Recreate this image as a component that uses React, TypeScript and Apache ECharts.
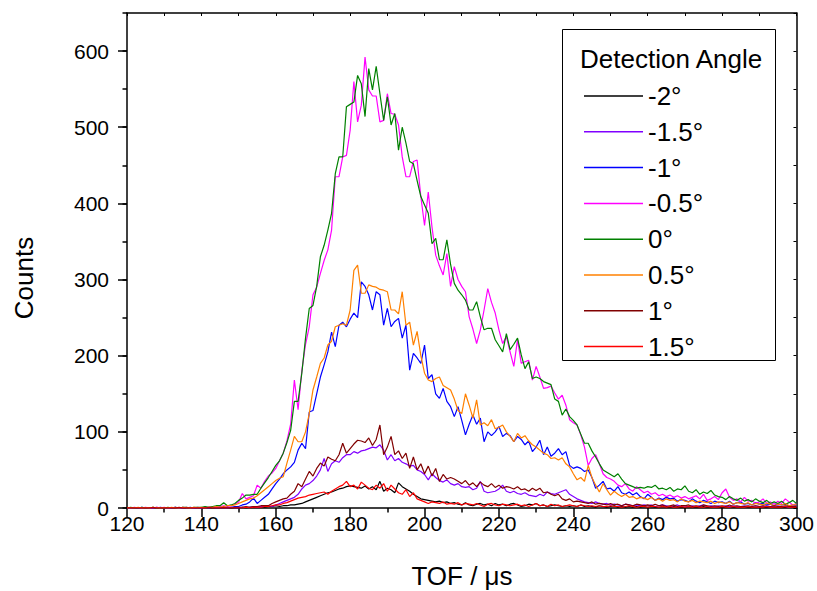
import React, { useEffect, useRef } from "react";
import * as echarts from "echarts";

const FONT = "'Liberation Sans', Arial, Helvetica, sans-serif";

// TOF axis (µs), one point per µs
const tof = [
  120, 121, 122, 123, 124, 125, 126, 127, 128, 129,
  130, 131, 132, 133, 134, 135, 136, 137, 138, 139,
  140, 141, 142, 143, 144, 145, 146, 147, 148, 149,
  150, 151, 152, 153, 154, 155, 156, 157, 158, 159,
  160, 161, 162, 163, 164, 165, 166, 167, 168, 169,
  170, 171, 172, 173, 174, 175, 176, 177, 178, 179,
  180, 181, 182, 183, 184, 185, 186, 187, 188, 189,
  190, 191, 192, 193, 194, 195, 196, 197, 198, 199,
  200, 201, 202, 203, 204, 205, 206, 207, 208, 209,
  210, 211, 212, 213, 214, 215, 216, 217, 218, 219,
  220, 221, 222, 223, 224, 225, 226, 227, 228, 229,
  230, 231, 232, 233, 234, 235, 236, 237, 238, 239,
  240, 241, 242, 243, 244, 245, 246, 247, 248, 249,
  250, 251, 252, 253, 254, 255, 256, 257, 258, 259,
  260, 261, 262, 263, 264, 265, 266, 267, 268, 269,
  270, 271, 272, 273, 274, 275, 276, 277, 278, 279,
  280, 281, 282, 283, 284, 285, 286, 287, 288, 289,
  290, 291, 292, 293, 294, 295, 296, 297, 298, 299,
  300,
];

const angleLabels = ["-2°", "-1.5°", "-1°", "-0.5°", "0°", "0.5°", "1°", "1.5°"];

const xTickLabels = [120, 140, 160, 180, 200, 220, 240, 260, 280, 300];
const yTickLabels = [0, 100, 200, 300, 400, 500, 600];

const countsM20 = [
  0, 0, 0, 0, 0, 0, 0, 0, 0, 0,
  0, 0, 0, 0, 0, 0, 0, 0, 0, 0,
  0, 0, 0, 0, 0, 0, 0, 1, 0, 0,
  0, 1, 0, 1, 1, 1, 2, 1, 2, 2,
  3, 2, 3, 3, 4, 4, 5, 6, 8, 10,
  12, 14, 16, 18, 20, 21, 23, 25, 26, 28,
  29, 28, 27, 26, 29, 25, 28, 24, 35, 22,
  26, 24, 20, 33, 28, 25, 22, 18, 15, 12,
  11, 10, 9, 8, 9, 7, 8, 6, 7, 5,
  4, 7, 4, 3, 5, 6, 4, 5, 3, 6,
  4, 5, 3, 5, 6, 4, 2, 3, 5, 4,
  6, 3, 4, 2, 3, 4, 3, 2, 3, 2,
  3, 2, 4, 2, 3, 2, 1, 3, 2, 1,
  2, 3, 1, 2, 1, 2, 1, 2, 1, 2,
  1, 2, 1, 1, 2, 1, 1, 2, 1, 1,
  1, 2, 1, 1, 1, 2, 1, 1, 2, 1,
  1, 1, 2, 1, 1, 1, 2, 1, 1, 1,
  1, 1, 1, 2, 1, 1, 1, 1, 2, 1,
  1,
];

const countsM15 = [
  0, 0, 0, 0, 0, 0, 0, 0, 1, 0,
  0, 0, 0, 0, 0, 1, 0, 0, 0, 0,
  0, 0, 0, 1, 0, 0, 0, 0, 1, 0,
  0, 1, 1, 1, 2, 1, 2, 2, 3, 2,
  4, 6, 8, 10, 12, 14, 18, 25, 30, 32,
  36, 42, 50, 65, 48, 58, 62, 60, 66, 70,
  70, 74, 72, 75, 76, 78, 80, 79, 83, 76,
  63, 70, 62, 65, 60, 58, 55, 56, 50, 48,
  44, 37, 45, 40, 36, 34, 37, 32, 30, 32,
  28, 27, 28, 24, 26, 35, 22, 20, 21, 22,
  25, 30, 22, 20, 22, 19, 18, 20, 17, 16,
  15, 18, 16, 21, 19, 18, 20, 22, 24, 18,
  15, 12, 10, 8, 7, 6, 8, 6, 5, 6,
  4, 5, 4, 3, 5, 4, 3, 4, 3, 4,
  3, 4, 2, 3, 4, 3, 2, 3, 4, 2,
  3, 2, 3, 2, 3, 4, 2, 3, 2, 3,
  2, 3, 2, 3, 2, 2, 3, 2, 2, 3,
  2, 2, 3, 2, 2, 3, 2, 2, 1, 2,
  2,
];

const countsM10 = [
  0, 0, 0, 0, 1, 0, 0, 0, 0, 1,
  0, 0, 0, 1, 0, 0, 0, 1, 0, 0,
  0, 1, 0, 1, 0, 1, 1, 0, 1, 2,
  2, 4, 5, 8, 13, 6, 10, 14, 18, 25,
  32, 38, 45, 50, 54, 60, 76, 85, 78, 126,
  128, 150, 172, 188, 205, 231, 212, 240, 244, 238,
  248, 256, 250, 297, 291, 280, 260, 284, 280, 240,
  262, 238, 245, 249, 223, 240, 181, 203, 197, 190,
  214, 170, 175, 150, 144, 157, 140, 133, 120, 133,
  115, 96, 110, 122, 110, 118, 87, 100, 95, 100,
  107, 94, 98, 95, 87, 94, 90, 83, 88, 74,
  80, 89, 70, 80, 68, 72, 78, 70, 74, 56,
  52, 54, 52, 48, 50, 40, 26, 30, 35, 25,
  26, 22, 28, 20, 18, 21, 17, 20, 15, 12,
  18, 14, 10, 13, 11, 14, 12, 13, 9, 11,
  10, 8, 12, 9, 7, 10, 8, 6, 9, 7,
  8, 6, 9, 5, 7, 8, 5, 6, 4, 7,
  5, 6, 4, 5, 3, 6, 4, 5, 3, 4,
  3,
];

const countsM05 = [
  0, 0, 1, 0, 0, 1, 0, 0, 1, 0,
  1, 0, 0, 1, 0, 0, 1, 0, 0, 1,
  0, 1, 1, 2, 1, 2, 3, 2, 3, 5,
  8, 19, 12, 14, 16, 30, 26, 35, 42, 46,
  52, 62, 72, 88, 110, 168, 129, 180, 215, 238,
  280, 290, 308, 325, 339, 365, 435, 435, 461, 463,
  496, 560, 507, 529, 592, 549, 541, 541, 507, 509,
  544, 518, 517, 503, 461, 435, 435, 455, 457, 409,
  371, 415, 369, 332, 318, 306, 334, 291, 317, 300,
  291, 284, 251, 235, 216, 234, 260, 288, 270, 256,
  234, 216, 225, 205, 186, 221, 190, 192, 194, 168,
  186, 172, 157, 158, 160, 151, 143, 148, 135, 116,
  112, 109, 96, 80, 56, 65, 70, 58, 45, 40,
  38, 35, 30, 28, 32, 25, 22, 28, 24, 20,
  22, 18, 20, 16, 18, 15, 17, 14, 16, 13,
  15, 12, 14, 16, 12, 18, 10, 12, 15, 11,
  20, 25, 14, 10, 12, 8, 14, 9, 10, 6,
  8, 12, 6, 8, 5, 9, 6, 12, 8, 4,
  6,
];

const counts00 = [
  0, 1, 0, 0, 1, 0, 0, 1, 0, 0,
  0, 1, 0, 1, 0, 1, 1, 0, 1, 1,
  1, 2, 1, 2, 3, 3, 7, 3, 4, 6,
  10, 13, 17, 17, 18, 18, 26, 33, 40, 48,
  56, 62, 72, 86, 102, 140, 140, 177, 223, 262,
  266, 291, 330, 345, 365, 387, 439, 461, 461, 527,
  530, 533, 568, 557, 514, 577, 549, 580, 544, 509,
  540, 503, 518, 470, 500, 479, 455, 452, 430, 409,
  398, 387, 347, 354, 326, 326, 352, 320, 295, 286,
  280, 273, 260, 260, 271, 251, 234, 236, 236, 221,
  213, 205, 229, 208, 215, 223, 201, 183, 192, 170,
  172, 170, 166, 164, 162, 143, 140, 122, 130, 120,
  115, 109, 97, 85, 85, 75, 67, 58, 50, 47,
  44, 41, 45, 38, 32, 30, 28, 26, 27, 26,
  28, 27, 30, 25, 26, 24, 27, 22, 25, 24,
  29, 22, 20, 24, 18, 21, 19, 23, 17, 15,
  14, 11, 15, 12, 10, 13, 9, 11, 8, 12,
  9, 7, 10, 6, 8, 6, 9, 5, 7, 10,
  6,
];

const countsP05 = [
  0, 0, 0, 1, 0, 0, 0, 1, 0, 0,
  0, 0, 1, 0, 0, 1, 0, 0, 1, 0,
  1, 0, 1, 1, 2, 1, 2, 3, 3, 4,
  6, 8, 10, 12, 13, 16, 20, 24, 28, 32,
  36, 39, 41, 59, 76, 94, 87, 87, 100, 124,
  155, 172, 190, 197, 214, 219, 238, 240, 242, 240,
  260, 312, 319, 282, 282, 293, 291, 290, 287, 286,
  284, 260, 260, 255, 284, 240, 244, 214, 232, 200,
  177, 168, 166, 170, 172, 161, 158, 155, 143, 128,
  124, 150, 135, 118, 142, 109, 112, 108, 116, 104,
  106, 109, 100, 94, 87, 98, 92, 95, 88, 83,
  80, 76, 72, 70, 65, 66, 63, 66, 58, 54,
  45, 37, 40, 35, 56, 40, 30, 21, 32, 24,
  17, 22, 18, 15, 18, 14, 15, 12, 14, 13,
  11, 14, 10, 12, 9, 12, 10, 11, 8, 12,
  9, 8, 10, 7, 9, 8, 7, 9, 6, 8,
  7, 6, 8, 5, 7, 6, 5, 7, 4, 6,
  5, 4, 6, 5, 3, 5, 4, 6, 3, 4,
  4,
];

const countsP10 = [
  0, 0, 0, 0, 0, 0, 0, 1, 0, 0,
  0, 0, 0, 0, 1, 0, 0, 0, 0, 0,
  0, 0, 1, 0, 0, 0, 1, 0, 0, 1,
  1, 1, 2, 1, 2, 2, 3, 3, 3, 6,
  8, 10, 12, 13, 18, 22, 32, 28, 38, 48,
  42, 52, 59, 55, 67, 64, 62, 70, 85, 72,
  78, 84, 89, 88, 86, 92, 82, 90, 109, 70,
  80, 94, 70, 75, 65, 72, 52, 67, 50, 58,
  45, 55, 42, 52, 35, 44, 38, 40, 38, 35,
  32, 36, 30, 33, 28, 34, 30, 28, 32, 27,
  30, 26, 28, 27, 25, 28, 24, 25, 22, 26,
  23, 26, 20, 21, 18, 16, 18, 12, 10, 12,
  8, 9, 8, 7, 6, 8, 5, 6, 5, 4,
  6, 4, 5, 3, 5, 4, 3, 5, 4, 3,
  4, 3, 5, 3, 4, 2, 3, 4, 2, 3,
  3, 4, 2, 3, 2, 4, 3, 2, 3, 2,
  3, 2, 4, 2, 3, 2, 2, 3, 2, 3,
  2, 3, 2, 2, 3, 2, 2, 3, 2, 2,
  2,
];

const countsP15 = [
  0, 0, 0, 0, 0, 0, 0, 0, 0, 0,
  0, 0, 0, 0, 0, 0, 0, 0, 0, 0,
  0, 0, 0, 0, 0, 0, 0, 0, 0, 0,
  0, 0, 1, 0, 1, 1, 1, 2, 2, 3,
  4, 4, 6, 7, 9, 11, 13, 14, 15, 17,
  18, 19, 20, 21, 18, 22, 25, 28, 30, 35,
  28, 30, 25, 34, 30, 26, 24, 30, 26, 32,
  22, 30, 25, 20, 18, 24, 15, 20, 12, 10,
  8, 6, 8, 7, 6, 8, 5, 6, 5, 7,
  4, 6, 5, 4, 6, 4, 2, 5, 6, 4,
  3, 5, 4, 3, 4, 5, 3, 4, 2, 4,
  6, 3, 4, 2, 5, 3, 4, 2, 3, 4,
  3, 2, 4, 3, 2, 3, 2, 3, 2, 2,
  3, 2, 2, 1, 2, 3, 2, 1, 2, 2,
  1, 2, 2, 1, 2, 1, 2, 1, 1, 2,
  1, 2, 1, 2, 1, 1, 2, 1, 1, 1,
  2, 1, 1, 2, 1, 1, 1, 2, 1, 1,
  1, 1, 2, 1, 1, 1, 1, 2, 1, 1,
  1,
];

const seriesValues = [
  countsM20,
  countsM15,
  countsM10,
  countsM05,
  counts00,
  countsP05,
  countsP10,
  countsP15,
];

const lineColors = [
  "#000000",
  "#8000ff",
  "#0000ff",
  "#ff00ff",
  "#008000",
  "#ff8000",
  "#800000",
  "#ff0000",
];

export default function App() {
  const ref = useRef<HTMLDivElement>(null);

  useEffect(() => {
    if (!ref.current) return;
    const chart = echarts.init(ref.current, null, { renderer: "svg" });

    const axisLineStyle = { color: "#000", width: 1.5 };

    const option: any = {
      animation: false,
      backgroundColor: "#ffffff",
      textStyle: { fontFamily: FONT },
      grid: { left: 127, right: 20, top: 13, bottom: 83 },
      xAxis: [
        {
          type: "value",
          position: "bottom",
          min: 120,
          max: 300,
          interval: 20,
          axisLine: { show: true, onZero: false, lineStyle: axisLineStyle },
          axisTick: { show: true, inside: false, length: 9, lineStyle: axisLineStyle },
          minorTick: { show: true, splitNumber: 2, length: 4.5, lineStyle: axisLineStyle },
          axisLabel: {
            show: true,
            fontSize: 21,
            color: "#000",
            fontFamily: FONT,
            margin: 5,
            customValues: xTickLabels,
          },
          splitLine: { show: false },
          minorSplitLine: { show: false },
        },
        {
          type: "value",
          position: "top",
          min: 120,
          max: 300,
          interval: 10,
          axisLine: { show: true, onZero: false, lineStyle: axisLineStyle },
          axisTick: { show: true, inside: true, length: 3, lineStyle: { color: "#000", width: 1 } },
          axisLabel: { show: false },
          splitLine: { show: false },
        },
      ],
      yAxis: [
        {
          type: "value",
          position: "left",
          min: 0,
          max: 650,
          interval: 100,
          axisLine: { show: true, onZero: false, lineStyle: axisLineStyle },
          axisTick: {
            show: true,
            inside: false,
            length: 9,
            lineStyle: axisLineStyle,
            customValues: yTickLabels,
          },
          axisLabel: {
            show: true,
            fontSize: 21,
            color: "#000",
            fontFamily: FONT,
            margin: 18,
            customValues: yTickLabels,
          },
          splitLine: { show: false },
        },
        {
          type: "value",
          position: "left",
          min: 0,
          max: 650,
          interval: 50,
          axisLine: { show: false },
          axisTick: { show: true, inside: false, length: 4.5, lineStyle: axisLineStyle },
          axisLabel: { show: false },
          splitLine: { show: false },
        },
        {
          type: "value",
          position: "right",
          min: 0,
          max: 650,
          interval: 50,
          axisLine: { show: true, onZero: false, lineStyle: axisLineStyle },
          axisTick: { show: true, inside: true, length: 3, lineStyle: { color: "#000", width: 1 } },
          axisLabel: { show: false },
          splitLine: { show: false },
        },
      ],
      legend: {
        orient: "vertical",
        left: 579,
        top: 78,
        icon: "rect",
        itemWidth: 59,
        itemHeight: 1.5,
        itemGap: 9.8,
        selectedMode: false,
        data: angleLabels,
        textStyle: {
          fontSize: 26,
          lineHeight: 26,
          color: "#000",
          fontFamily: FONT,
        },
      },
      graphic: [
        {
          type: "rect",
          z: 1,
          silent: true,
          shape: { x: 562.5, y: 29.5, width: 213, height: 331 },
          style: { fill: "#ffffff", stroke: "#000000", lineWidth: 1 },
        },
        {
          type: "text",
          z: 10,
          x: 580,
          y: 59,
          style: {
            text: "Detection Angle",
            fontSize: 26,
            fontFamily: FONT,
            fill: "#000",
            align: "left",
            verticalAlign: "middle",
          },
        },
        {
          type: "text",
          z: 10,
          x: 24,
          y: 278,
          rotation: Math.PI / 2,
          style: {
            text: "Counts",
            fontSize: 26,
            fontFamily: FONT,
            fill: "#000",
            align: "center",
            verticalAlign: "middle",
          },
        },
        {
          type: "text",
          z: 10,
          x: 462,
          y: 576,
          style: {
            text: "TOF / μs",
            fontSize: 26,
            fontFamily: FONT,
            fill: "#000",
            align: "center",
            verticalAlign: "middle",
          },
        },
      ],
      series: angleLabels.map((name, i) => ({
        name,
        type: "line",
        xAxisIndex: 0,
        yAxisIndex: 0,
        showSymbol: false,
        symbol: "none",
        silent: true,
        color: lineColors[i],
        lineStyle: { color: lineColors[i], width: 1.2 },
        data: tof.map((t, k) => [t, seriesValues[i][k]]),
      })),
    };

    chart.setOption(option);
    return () => chart.dispose();
  }, []);

  return (
    <div
      ref={ref}
      style={{ position: "absolute", left: 0, top: 0, width: 817, height: 591 }}
    />
  );
}
